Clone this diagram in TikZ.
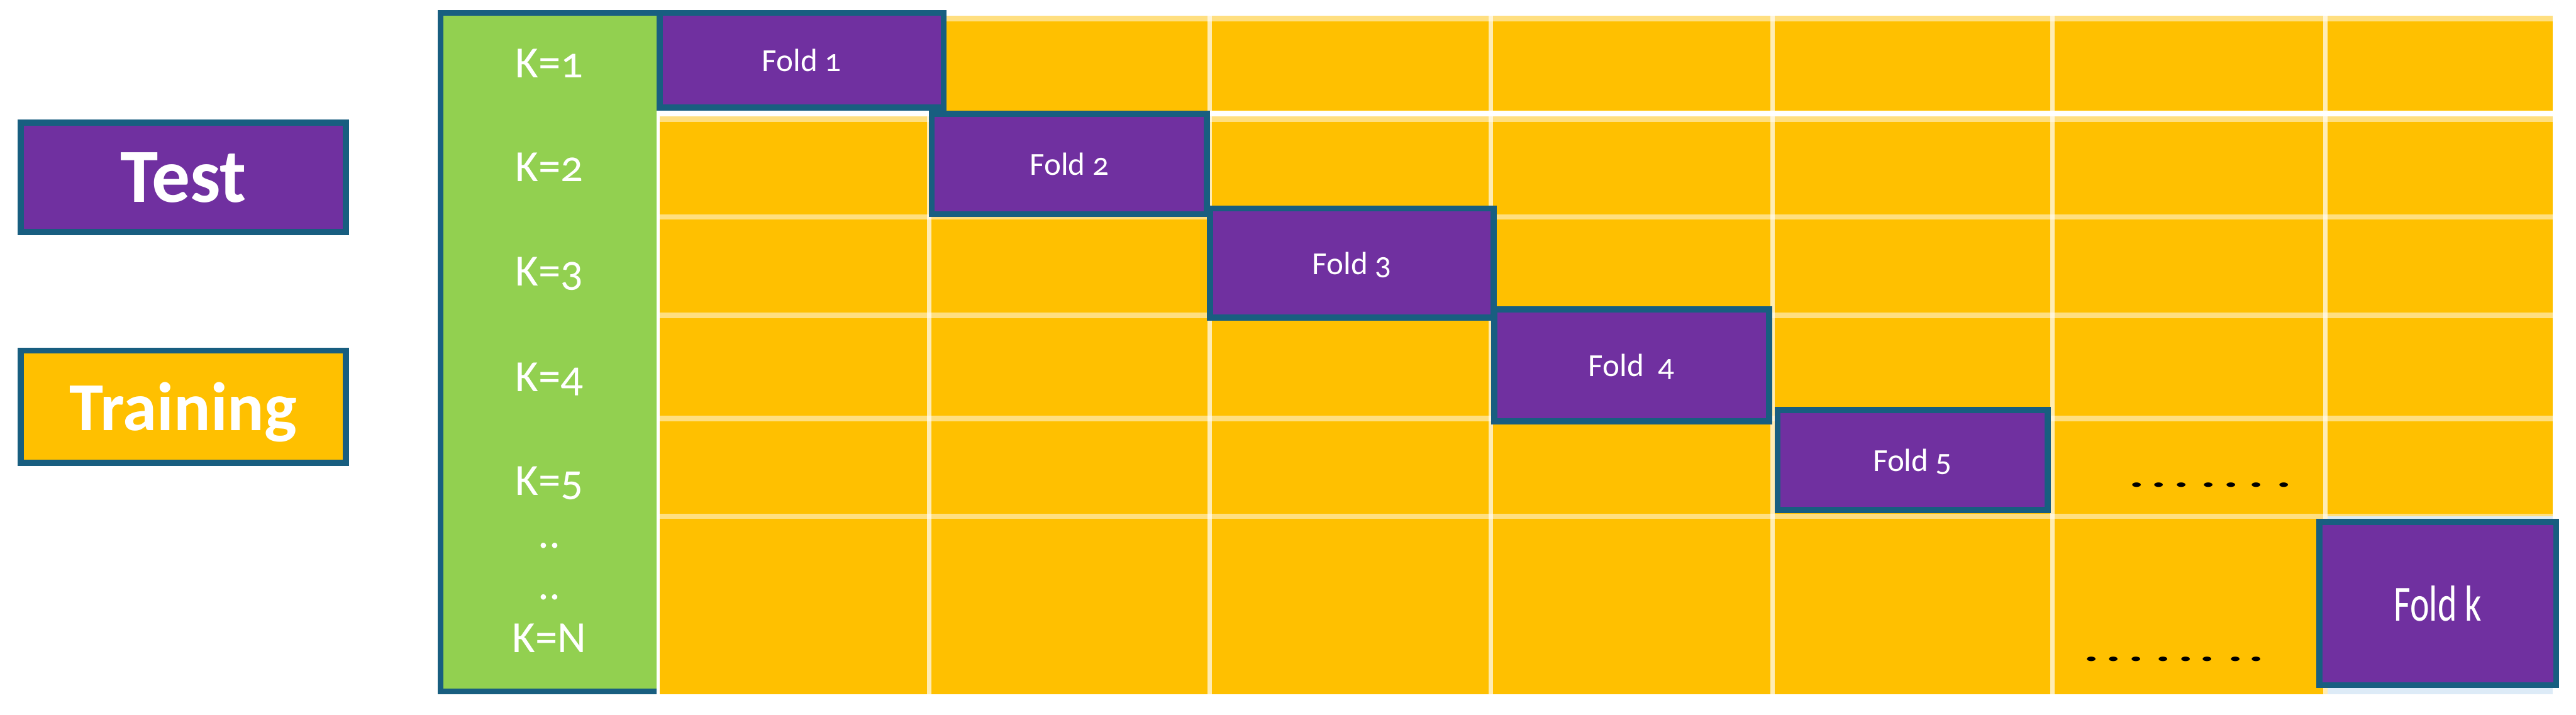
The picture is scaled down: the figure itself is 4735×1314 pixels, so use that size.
\documentclass[tikz,border=0pt]{standalone}
\usepackage{graphicx}
\usepackage{fontspec}
\setmainfont{Carlito}[Numbers=OldStyle]
\definecolor{purp}{RGB}{112,48,160}
\definecolor{yel}{RGB}{255,192,0}
\definecolor{pale}{RGB}{255,223,128}
\definecolor{grn}{RGB}{146,208,80}
\definecolor{bord}{RGB}{24,94,128}
\definecolor{paleblue}{RGB}{221,235,247}
\newcommand{\mydsp}[1]{\hspace{#1cm}}
\newcommand{\mydt}{\scalebox{1.5}[0.8]{.}}
\begin{document}
\begin{tikzpicture}[x=0.01cm,y=-0.01cm,
  boxst/.style={draw=bord, fill=purp, line width=0.11cm, inner sep=0pt, text=white, text depth=0pt},
  foldtxt/.style={font=\fontsize{16.8pt}{20pt}\selectfont},
  klab/.style={anchor=base, text=white, inner sep=0pt, font=\fontsize{23.3pt}{28pt}\selectfont},
  dotst/.style={anchor=base west, inner sep=0pt, text=black, font=\bfseries\fontsize{20pt}{24pt}\selectfont}]
\useasboundingbox (0,0) rectangle (4735,1314);

% legend
\node[boxst, minimum width=5.97cm, minimum height=2.01cm, font=\bfseries\fontsize{40pt}{48pt}\selectfont] (test) at (337,326) {Test};
\node[boxst, fill=yel, minimum width=5.97cm, minimum height=2.06cm, font=\bfseries\fontsize{35.9pt}{43pt}\selectfont] (train) at (337,747.5) {Training};

% yellow grid rows
\foreach \ya/\yb in {29/203,214/394,394/575,575/764,764/944,944/1276} {
  \fill[yel] (1213,\ya) rectangle (4692,\yb);
  \fill[pale] (1213,\ya) rectangle (4692,\ya+10);
}
\fill[paleblue] (4278,949) rectangle (4692,1276);
% vertical separators
\foreach \xx in {1708,2224,2740,3258,3773,4274}
  \draw[white, opacity=0.7, line width=0.08cm] (\xx,29) -- (\xx,1276);

% green column
\fill[grn] (809.5,23.5) rectangle (1207,1271);
\draw[bord, line width=0.11cm] (1207,23.5) -- (809.5,23.5) -- (809.5,1271) -- (1207,1271);

\node[klab] (k1) at (1010,143) {K=1};
\node[klab] (k2) at (1010,333) {K=2};
\node[klab] (k3) at (1010,525) {K=3};
\node[klab] (k4) at (1010,720) {K=4};
\node[klab] (k5) at (1010,910) {K=5};
\node[klab] (kd1) at (1010,1008) {..};
\node[klab] (kd2) at (1010,1102) {..};
\node[klab] (kn) at (1010,1199) {K=N};

% folds
\node[boxst, foldtxt, minimum width=5.22cm, minimum height=1.74cm] (f1) at (1473.5,110.5) {Fold 1};
\node[boxst, foldtxt, minimum width=5.06cm, minimum height=1.84cm] (f2) at (1965.5,301.5) {Fold 2};
\node[boxst, foldtxt, minimum width=5.21cm, minimum height=2.00cm] (f3) at (2485,483.5) {Fold 3};
\node[boxst, foldtxt, minimum width=5.05cm, minimum height=2.06cm] (f4) at (2999,671.5) {Fold\ \ 4};
\node[boxst, foldtxt, minimum width=4.96cm, minimum height=1.84cm] (f5) at (3515.5,845.5) {Fold 5};
\node[boxst, minimum width=4.35cm, minimum height=3.00cm, font=\fontsize{26.5pt}{30pt}\selectfont] (fk) at (4481,1109.5) {\scalebox{0.72}[1]{Fold k}};

% dots
\node[dotst] (dots1) at (3913,895) {\mydt\mydsp{0.125}\mydt\mydsp{0.135}\mydt\mydsp{0.215}\mydt\mydsp{0.125}\mydt\mydsp{0.185}\mydt\mydsp{0.225}\mydt};
\node[dotst] (dots2) at (3830,1216) {\mydt\mydsp{0.118}\mydt\mydsp{0.133}\mydt\mydsp{0.218}\mydt\mydsp{0.138}\mydt\mydsp{0.113}\mydt\mydsp{0.238}\mydt\mydsp{0.1}\mydt};
\end{tikzpicture}
\end{document}
